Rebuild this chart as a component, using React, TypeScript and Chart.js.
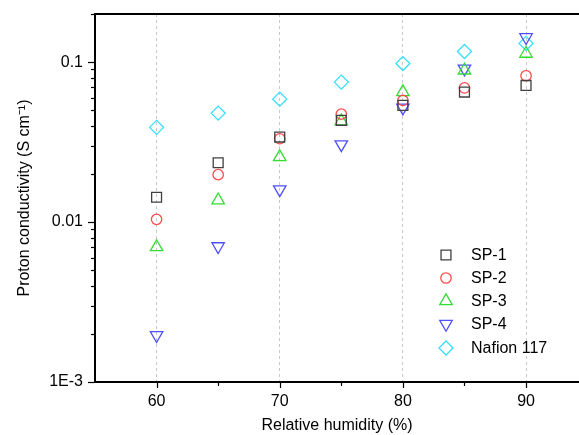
import React, { useEffect, useRef } from "react";
import { Chart, registerables } from "chart.js";

Chart.register(...registerables);

const humidity = [60, 65, 70, 75, 80, 85, 90];
const sp1 = [0.0143, 0.0235, 0.034, 0.0433, 0.0537, 0.065, 0.0715];
const sp2 = [0.0104, 0.0198, 0.0332, 0.0473, 0.0576, 0.069, 0.0822];
const sp3 = [0.00698, 0.0137, 0.0255, 0.0427, 0.065, 0.0888, 0.113];
const sp4 = [0.00196, 0.00705, 0.016, 0.0306, 0.0519, 0.091, 0.143];
const nafion = [0.0391, 0.048, 0.0587, 0.075, 0.098, 0.1166, 0.131];

const seriesNames = ["SP-1", "SP-2", "SP-3", "SP-4", "Nafion 117"];
const seriesColors = ["#404040", "#ff4a4a", "#33dd33", "#4f4fff", "#33e0f8"];
const seriesShapes = ["square", "circle", "up", "down", "diamond"];
const seriesValues = [sp1, sp2, sp3, sp4, nafion];

const xTickValues = [60, 65, 70, 75, 80, 85, 90];
const xLabelValues = [60, 70, 80, 90];
const yLabels: Record<string, string> = { "-3": "1E-3", "-2": "0.01", "-1": "0.1" };

const FONT = "'Liberation Sans', Arial, sans-serif";

function shapeToStyle(s: string) {
  if (s === "square") return { style: "rect", rot: 0, r: 7 };
  if (s === "circle") return { style: "circle", rot: 0, r: 5.2 };
  if (s === "up") return { style: "triangle", rot: 0, r: 7.2 };
  if (s === "down") return { style: "triangle", rot: 180, r: 7.2 };
  return { style: "rectRot", rot: 0, r: 7 };
}

function drawMarker(ctx: CanvasRenderingContext2D, shape: string, x: number, y: number, color: string) {
  ctx.save();
  ctx.strokeStyle = color;
  ctx.lineWidth = 1.3;
  ctx.beginPath();
  if (shape === "square") {
    const s = 7 * Math.SQRT1_2;
    ctx.rect(x - s, y - s, 2 * s, 2 * s);
  } else if (shape === "circle") {
    ctx.arc(x, y, 5.2, 0, Math.PI * 2);
  } else if (shape === "up" || shape === "down") {
    const r = 7.2;
    const sgn = shape === "up" ? 1 : -1;
    for (let i = 0; i < 3; i++) {
      const a = (i * 2 * Math.PI) / 3;
      const px = x + Math.sin(a) * r;
      const py = y - sgn * Math.cos(a) * r;
      if (i === 0) ctx.moveTo(px, py);
      else ctx.lineTo(px, py);
    }
    ctx.closePath();
  } else {
    const r = 7;
    ctx.moveTo(x - r, y);
    ctx.lineTo(x, y - r);
    ctx.lineTo(x + r, y);
    ctx.lineTo(x, y + r);
    ctx.closePath();
  }
  ctx.stroke();
  ctx.restore();
}

const isMajor = (v: number) => {
  const l = Math.log10(v);
  return Math.abs(l - Math.round(l)) < 1e-6;
};

const framePlugin = {
  id: "frame",
  afterDraw(chart: any) {
    const { ctx, chartArea } = chart;
    const xs = chart.scales.x;
    const ys = chart.scales.y;
    ctx.save();
    ctx.strokeStyle = "#000";
    ctx.lineWidth = 2;
    ctx.beginPath();
    ctx.moveTo(chartArea.left - 1, chartArea.top);
    ctx.lineTo(chartArea.right, chartArea.top);
    ctx.stroke();
    ctx.lineWidth = 1.2;
    for (const v of xTickValues) {
      const px = Math.round(xs.getPixelForValue(v)) + 0.5;
      const len = v % 10 === 0 ? 6 : 4;
      ctx.beginPath();
      ctx.moveTo(px, chartArea.bottom);
      ctx.lineTo(px, chartArea.bottom + len);
      ctx.stroke();
    }
    for (const t of ys.ticks) {
      const py = Math.round(ys.getPixelForValue(t.value)) + 0.5;
      const len = isMajor(t.value) ? 7 : 4;
      ctx.beginPath();
      ctx.moveTo(chartArea.left, py);
      ctx.lineTo(chartArea.left - len, py);
      ctx.stroke();
    }
    const lx = 446;
    const tx = 471;
    const ys0 = [255, 278, 301, 324, 348];
    ctx.font = "16px " + FONT;
    ctx.fillStyle = "#000";
    ctx.textBaseline = "middle";
    ctx.textAlign = "left";
    seriesNames.forEach((name, i) => {
      drawMarker(ctx, seriesShapes[i], lx, ys0[i], seriesColors[i]);
      ctx.fillText(name, tx, ys0[i] + 1);
    });
    ctx.restore();
  },
};

export default function App() {
  const ref = useRef<HTMLCanvasElement>(null);
  useEffect(() => {
    document.body.style.margin = "0";
    const canvas = ref.current!;
    const datasets = seriesNames.map((name, i) => {
      const st = shapeToStyle(seriesShapes[i]);
      return {
        label: name,
        data: humidity.map((h, j) => ({ x: h, y: seriesValues[i][j] })),
        showLine: false,
        pointStyle: st.style,
        rotation: st.rot,
        pointRadius: st.r,
        pointBorderWidth: 1.3,
        borderColor: seriesColors[i],
        backgroundColor: "rgba(0,0,0,0)",
        pointBackgroundColor: "rgba(0,0,0,0)",
      };
    });
    const chart = new Chart(canvas, {
      type: "scatter",
      data: { datasets } as any,
      plugins: [framePlugin],
      options: {
        animation: false,
        responsive: false,
        devicePixelRatio: 1,
        layout: { autoPadding: false, padding: { top: 14, right: 0, left: 0, bottom: 0 } },
        plugins: { legend: { display: false }, tooltip: { enabled: false } },
        scales: {
          x: {
            type: "linear",
            min: 55,
            max: 94.3,
            afterBuildTicks: (scale: any) => {
              scale.ticks = xTickValues.map((v) => ({ value: v }));
            },
            afterFit: (scale: any) => {
              scale.height = 53;
              scale.paddingLeft = 0;
              scale.paddingRight = 0;
            },
            grid: {
              display: true,
              drawTicks: false,
              lineWidth: 1,
              color: (c: any) =>
                c.tick && xLabelValues.includes(c.tick.value) ? "#c8c8c8" : "rgba(0,0,0,0)",
            },
            border: { display: true, color: "#000", width: 2, dash: [3, 3] },
            ticks: {
              autoSkip: false,
              maxRotation: 0,
              padding: 10,
              color: "#000",
              font: { family: FONT, size: 16 },
              callback: (v: any) => (xLabelValues.includes(Number(v)) ? String(v) : ""),
            },
            title: {
              display: true,
              text: "Relative humidity (%)",
              color: "#000",
              font: { family: FONT, size: 16 },
              padding: { top: 2, bottom: 0 },
            },
          },
          y: {
            type: "logarithmic",
            min: 0.001,
            max: 0.2,
            afterBuildTicks: (scale: any) => {
              const t: any[] = [];
              for (const d of [0.001, 0.01, 0.1]) {
                for (let m = 1; m <= 9; m++) {
                  const v = m * d;
                  if (v <= 0.2 + 1e-9) t.push({ value: v, major: m === 1 });
                }
              }
              scale.ticks = t;
            },
            afterFit: (scale: any) => {
              scale.width = 95;
              scale.paddingTop = 0;
              scale.paddingBottom = 0;
            },
            grid: { display: false, drawTicks: false },
            border: { display: true, color: "#000", width: 2 },
            ticks: {
              autoSkip: false,
              padding: 12,
              color: "#000",
              font: { family: FONT, size: 16 },
              callback: (v: any) => {
                const n = Number(v);
                if (!isMajor(n)) return "";
                return yLabels[String(Math.round(Math.log10(n)))] || "";
              },
            },
            title: {
              display: true,
              text: "Proton conductivity (S cm⁻¹)",
              color: "#000",
              font: { family: FONT, size: 16 },
              padding: { top: 15, bottom: 0 },
            },
          },
        },
      } as any,
    });
    return () => chart.destroy();
  }, []);
  return <canvas ref={ref} width={579} height={435} style={{ display: "block" }} />;
}
